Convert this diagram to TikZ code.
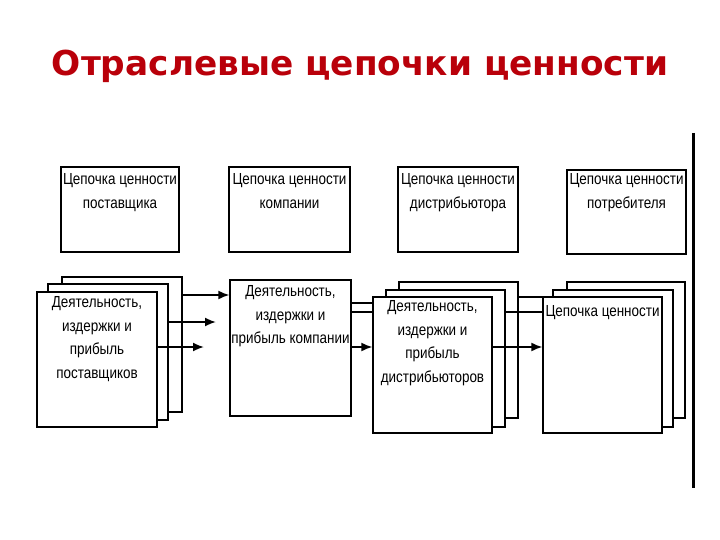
\documentclass[tikz,border=0pt]{standalone}
\usepackage{fontspec}
\usetikzlibrary{arrows.meta}
\newfontfamily\boxfont{Liberation Sans}[FakeStretch=0.84]
\newfontfamily\titlefont{DejaVu Sans}[BoldFont={DejaVu Sans Bold}]
\definecolor{titlered}{RGB}{185,0,10}
\begin{document}
\begin{tikzpicture}[x=1pt,y=-1pt,
  box/.style={draw, line width=1.3pt, fill=white, rectangle, inner sep=0pt},
  txt/.style={inner sep=0pt, align=center, font=\boxfont\fontsize{16}{23.5}\selectfont},
  conn/.style={line width=1.8pt},
  thin/.style={line width=1.1pt},
  arr/.style={line width=1.8pt, -{Latex[length=11pt,width=9pt]}}]
\useasboundingbox (0,0) rectangle (720,540);
\fill[white] (0,0) rectangle (720,540);
% title
\node[text=titlered, inner sep=0pt] (title) at (360,66)
  {\resizebox{616pt}{!}{\titlefont\bfseries Отраслевые цепочки ценности}};
% vertical rule
\coordinate (vtop) at (693,133);
\coordinate (vbot) at (693,488);
\draw[line width=3pt] (vtop) -- (vbot);
% top boxes
\node[box, minimum width=118pt, minimum height=85pt] (t1) at (120,209.5) {};
\node[box, minimum width=121pt, minimum height=85pt] (t2) at (289.5,209.5) {};
\node[box, minimum width=120pt, minimum height=85pt] (t3) at (458,209.5) {};
\node[box, minimum width=119pt, minimum height=84pt] (t4) at (626.5,212) {};
\node[txt, anchor=north] (t1t) at ([yshift=-7pt]t1.north) {Цепочка ценности\\поставщика};
\node[txt, anchor=north] (t2t) at ([yshift=-7pt]t2.north) {Цепочка ценности\\компании};
\node[txt, anchor=north] (t3t) at ([yshift=-7pt]t3.north) {Цепочка ценности\\дистрибьютора};
\node[txt, anchor=north] (t4t) at ([yshift=-4pt]t4.north) {Цепочка ценности\\потребителя};
% level coordinates
\coordinate (y295) at (0,295);
\coordinate (y297) at (0,297);
\coordinate (y303) at (0,303);
\coordinate (y312) at (0,312);
\coordinate (y322) at (0,322);
\coordinate (y347) at (0,347);
\coordinate (tip2) at (216,322);
\coordinate (tip3) at (204,347);
% stack 1 (suppliers)
\node[box, minimum width=120pt, minimum height=135pt] (s1c) at (122,344.5) {};
\node[box, minimum width=120pt, minimum height=136pt] (s1b) at (108,352) {};
\node[box, minimum width=120pt, minimum height=135pt] (s1a) at (97,359.5) {};
\node[txt, anchor=north] (s1t) at ([yshift=-5pt]s1a.north) {Деятельность,\\издержки и\\прибыль\\поставщиков};
% company
\node[box, minimum width=121pt, minimum height=136pt] (comp) at (290.5,348) {};
\node[txt, anchor=north] (compt) at ([yshift=-6pt]comp.north) {Деятельность,\\издержки и\\прибыль компании};
% arrows from suppliers
\draw[arr] (s1c.east |- y295) -- (comp.west |- y295);
\draw[arr] (s1b.east |- y322) -- (tip2);
\draw[arr] (s1a.east |- y347) -- (tip3);
% stack 3 (distributors)
\node[box, minimum width=119pt, minimum height=136pt] (s3c) at (458.5,350) {};
\node[box, minimum width=119pt, minimum height=137pt] (s3b) at (445.5,358.5) {};
\node[box, minimum width=119pt, minimum height=136pt] (s3a) at (432.5,365) {};
\node[txt, anchor=north] (s3t) at ([yshift=-4pt]s3a.north) {Деятельность,\\издержки и\\прибыль\\дистрибьюторов};
% connectors company -> distributors
\draw[thin] (comp.east |- y303) -- (s3a.west |- y303);
\draw[conn] (comp.east |- y312) -- (s3a.west |- y312);
\draw[arr] (comp.east |- y347) -- (s3a.west |- y347);
% stack 4 (consumers)
\node[box, minimum width=118pt, minimum height=136pt] (s4c) at (626,350) {};
\node[box, minimum width=120pt, minimum height=137pt] (s4b) at (613,358.5) {};
\node[box, minimum width=119pt, minimum height=136pt] (s4a) at (602.5,365) {};
\node[txt, anchor=north] (s4t) at ([yshift=-9pt]s4a.north) {Цепочка ценности};
% connectors distributors -> consumers
\draw[thin] (s3c.east |- y297) -- (s4a.west |- y297);
\draw[conn] (s3b.east |- y312) -- (s4a.west |- y312);
\draw[arr] (s3a.east |- y347) -- (s4a.west |- y347);
\end{tikzpicture}
\end{document}
